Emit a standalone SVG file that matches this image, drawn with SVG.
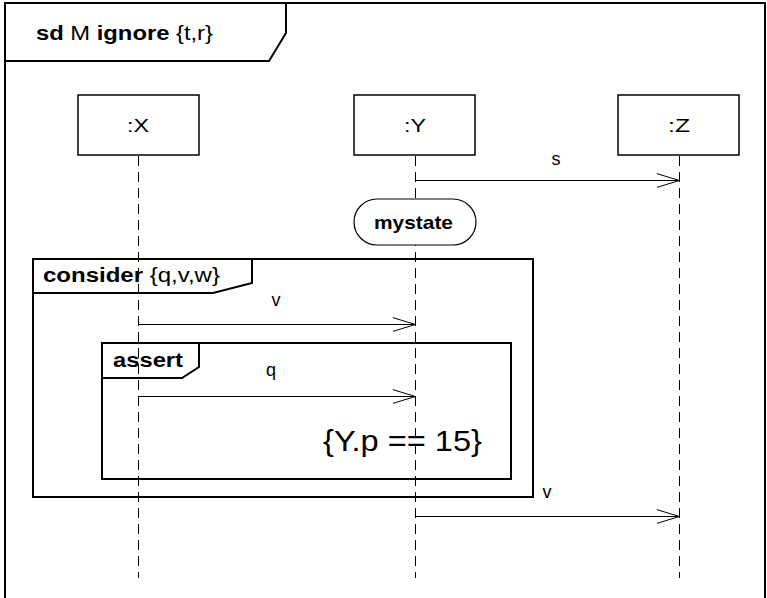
<svg xmlns="http://www.w3.org/2000/svg" width="767" height="598" viewBox="0 0 767 598">
<style>
text{font-family:"Liberation Sans",Arial,sans-serif;fill:#000}
.b{font-weight:bold}
.frame{fill:none;stroke:#000;stroke-width:2}
.box{fill:#fff;stroke:#000;stroke-width:1.5}
.ll{fill:none;stroke:#000;stroke-width:1;stroke-dasharray:10 6}
.msg{fill:none;stroke:#000;stroke-width:1}
.lbl{font-size:18px;text-anchor:middle}
</style>
<defs>
<marker id="open" markerWidth="24" markerHeight="16" refX="23" refY="8" orient="auto" markerUnits="userSpaceOnUse">
<path d="M0,1 L23,8 L0,15" fill="none" stroke="#000" stroke-width="1"/>
</marker>
</defs>
<rect width="767" height="598" fill="#fff"/>
<g id="frame">
<path class="frame" d="M5,620 V3 H765 V620"/>
<path class="frame" d="M5,61 H269 L286,33 V3"/>
<text x="36" y="40" font-size="20" textLength="177" lengthAdjust="spacingAndGlyphs"><tspan class="b">sd</tspan> M <tspan class="b">ignore</tspan> {t,r}</text>
</g>
<g id="lifelines">
<line class="ll" x1="138.5" y1="156" x2="138.5" y2="578"/>
<line class="ll" x1="415.5" y1="156" x2="415.5" y2="578"/>
<line class="ll" x1="679.5" y1="156" x2="679.5" y2="578" stroke="#777"/>
</g>
<g id="X">
<rect class="box" x="78" y="95" width="121" height="60"/>
<text class="lbl" x="138" y="132" textLength="22" lengthAdjust="spacingAndGlyphs">:X</text>
</g>
<g id="Y">
<rect class="box" x="354" y="95" width="121" height="60"/>
<text class="lbl" x="415" y="132" textLength="22" lengthAdjust="spacingAndGlyphs">:Y</text>
</g>
<g id="Z">
<rect class="box" x="618" y="95" width="121" height="60" stroke="#555"/>
<text class="lbl" x="679" y="132" textLength="22" lengthAdjust="spacingAndGlyphs">:Z</text>
</g>
<g id="mystate">
<rect x="354" y="199" width="122" height="46" rx="23" ry="23" fill="#fff" stroke="#000" stroke-width="1.2"/>
<text class="b" x="374" y="229" font-size="19" textLength="79" lengthAdjust="spacingAndGlyphs">mystate</text>
</g>
<g id="consider">
<rect class="frame" x="33" y="259" width="500" height="238"/>
<path class="frame" d="M33,293 H213 L252,283 V259"/>
<text x="43" y="282" font-size="20" textLength="177" lengthAdjust="spacingAndGlyphs"><tspan class="b">consider</tspan> {q,v,w}</text>
</g>
<g id="assert">
<rect class="frame" x="102" y="343" width="409" height="136"/>
<path class="frame" d="M102,378 H182 L199,367 V343"/>
<text class="b" x="113" y="367" font-size="20" textLength="70" lengthAdjust="spacingAndGlyphs">assert</text>
<text x="323" y="451" font-size="29" textLength="159" lengthAdjust="spacingAndGlyphs">{Y.p == 15}</text>
</g>
<g id="connectors">
<line class="msg" x1="415.5" y1="180.5" x2="679.5" y2="180.5" marker-end="url(#open)"/>
<text class="lbl" x="556" y="165">s</text>
<line class="msg" x1="138.5" y1="324.5" x2="415.5" y2="324.5" marker-end="url(#open)"/>
<text class="lbl" x="276" y="306">v</text>
<line class="msg" x1="138.5" y1="396.5" x2="415.5" y2="396.5" marker-end="url(#open)"/>
<text class="lbl" x="271" y="376">q</text>
<line class="msg" x1="415.5" y1="516.5" x2="679.5" y2="516.5" marker-end="url(#open)"/>
<text class="lbl" x="547" y="498">v</text>
</g>
</svg>
